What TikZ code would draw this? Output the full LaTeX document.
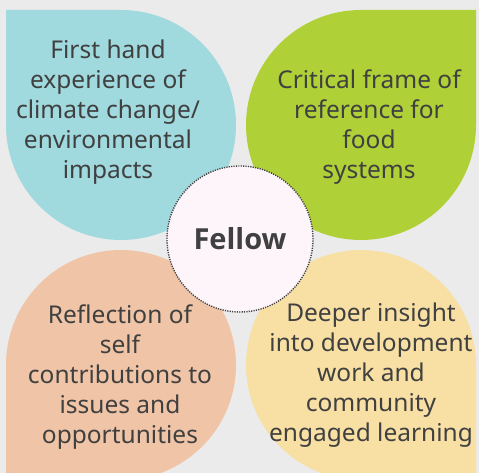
\documentclass[tikz,border=0pt]{standalone}
\usepackage{fontspec}
\setmainfont{Noto Sans}
\newfontfamily\hubfont{Open Sans}
\definecolor{bgc}{HTML}{EBEBEB}
\definecolor{petalblue}{HTML}{A0D9DE}
\definecolor{petalgreen}{HTML}{B0D038}
\definecolor{petalsalmon}{HTML}{F0C4A6}
\definecolor{petalyellow}{HTML}{F8E0A5}
\definecolor{hubfill}{HTML}{FDF5FA}
\definecolor{ink}{HTML}{404040}
\tikzset{
  petaltext/.style={text=ink, align=center, font=\fontsize{24.5}{30}\selectfont},
  hub/.style={circle, minimum size=146pt, inner sep=0pt, fill=hubfill,
    draw=ink, line width=1.4pt, dash pattern=on 1.2pt off 1.2pt,
    text=ink, font=\hubfont\bfseries\fontsize{29}{32}\selectfont}
}
\begin{document}
\begin{tikzpicture}[x=1pt,y=1pt]
  \useasboundingbox (0,0) rectangle (479,473);
  \fill[bgc] (0,0) rectangle (479,473);
  \begin{scope}
    \clip (0,0) rectangle (479,473);
    % four teardrop petals, each with its pointed corner facing outwards
    \fill[petalblue]   (6,463) -- (121,463) arc[start angle=90, end angle=-180, radius=115] -- cycle;
    \fill[petalgreen]  (476,463) -- (476,348) arc[start angle=0, end angle=-270, radius=115] -- cycle;
    \fill[petalsalmon] (6,-7) -- (6,108) arc[start angle=180, end angle=-90, radius=115] -- cycle;
    \fill[petalyellow] (476,-7) -- (361,-7) arc[start angle=-90, end angle=-360, radius=115] -- cycle;
  \end{scope}
  \node[petaltext] (tl) at (108,361) {First hand\\experience of\\climate change/\\environmental\\impacts};
  \node[petaltext] (tr) at (369,346) {Critical frame of\\reference for\\food\\systems};
  \node[petaltext] (bl) at (120,96) {Reflection of\\self\\contributions to\\issues and\\opportunities};
  \node[petaltext] (br) at (371,98) {Deeper insight\\into development\\work and\\community\\engaged learning};
  \node[hub] (fellow) at (240,234) {Fellow};
\end{tikzpicture}
\end{document}
